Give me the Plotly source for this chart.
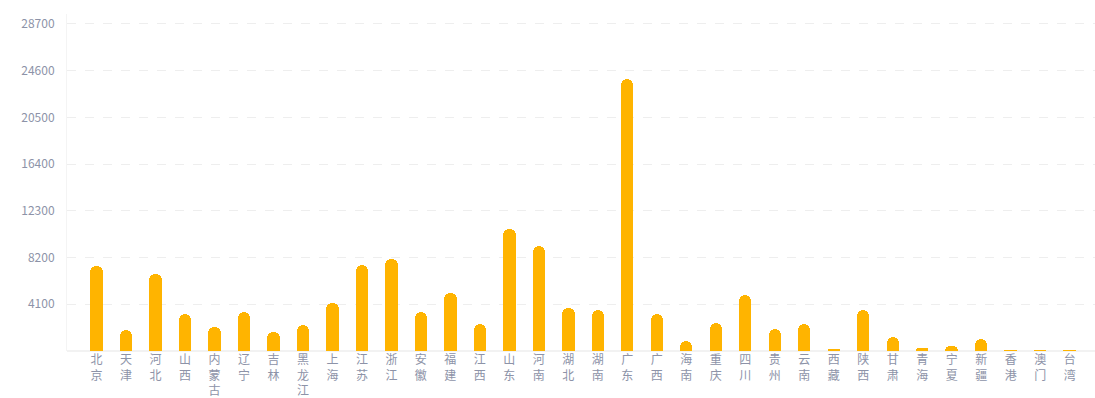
import plotly.graph_objects as go

provinces = ["北京", "天津", "河北", "山西", "内蒙古", "辽宁", "吉林", "黑龙江", "上海", "江苏",
             "浙江", "安徽", "福建", "江西", "山东", "河南", "湖北", "湖南", "广东", "广西",
             "海南", "重庆", "四川", "贵州", "云南", "西藏", "陕西", "甘肃", "青海", "宁夏",
             "新疆", "香港", "澳门", "台湾"]
values = [7440, 1800, 6720, 3230, 2090, 3380, 1660, 2270, 4250, 7530,
          8060, 3460, 5090, 2360, 10670, 9250, 3750, 3600, 23900, 3290,
          840, 2440, 4940, 1890, 2360, 170, 3600, 1190, 260, 440,
          1080, 80, 60, 50]
y_ticks = [4100, 8200, 12300, 16400, 20500, 24600, 28700]

labels = ["<br>".join(list(p)) for p in provinces]

fig = go.Figure(go.Bar(
    x=labels,
    y=values,
    width=0.42,
    marker=dict(color="#FFB400", cornerradius="50%", line=dict(width=0)),
    hoverinfo="x+y",
))

font_family = "Noto Sans CJK SC, Noto Sans, sans-serif"
text_color = "#8d93a8"

fig.update_layout(
    width=1095, height=398,
    margin=dict(l=67, r=0, t=14, b=45),
    paper_bgcolor="white", plot_bgcolor="white",
    showlegend=False,
    bargap=0,
    font=dict(family=font_family, size=12, color=text_color),
    xaxis=dict(
        type="category",
        range=[-1.0, 33.86],
        showgrid=False,
        showline=False,
        zeroline=False,
        ticks="",
        tickangle=0,
        tickfont=dict(size=12, color=text_color),
        fixedrange=True,
    ),
    yaxis=dict(
        range=[0, 29572],
        tickvals=y_ticks,
        ticktext=[str(v) for v in y_ticks],
        showgrid=True,
        gridcolor="#eeeeee",
        griddash="dash",
        gridwidth=1,
        showline=True,
        linecolor="#f4f4f4",
        linewidth=1,
        zeroline=True,
        zerolinecolor="#f2f2f2",
        zerolinewidth=2,
        ticks="",
        ticklabelstandoff=9,
        tickfont=dict(size=12, color=text_color),
        fixedrange=True,
    ),
)

fig.write_html("out.html")
